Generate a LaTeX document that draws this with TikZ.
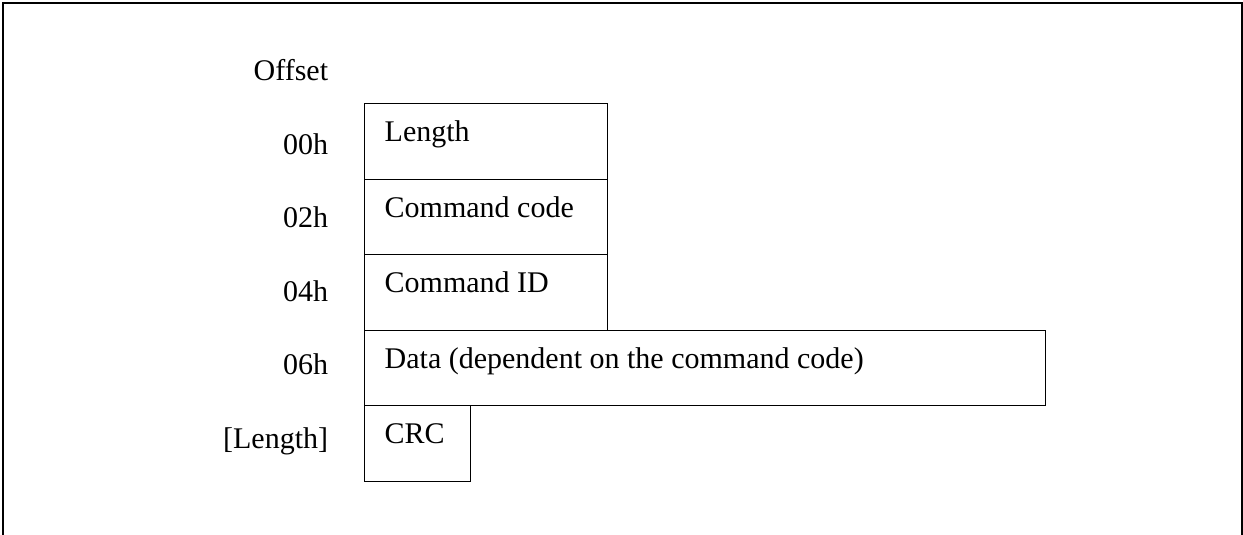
\documentclass[tikz,border=0pt]{standalone}
\usepackage{fontspec}
\setmainfont{Liberation Serif}
\usetikzlibrary{positioning}

\begin{document}
\begin{tikzpicture}[x=1pt,y=-1pt,
    field/.style={draw,line width=1pt,anchor=north west,inner sep=0pt,minimum height=75.5pt},
    fieldtext/.style={anchor=base west,inner sep=0pt,font=\fontsize{30}{36}\selectfont},
    offs/.style={anchor=base east,inner sep=0pt,font=\fontsize{30}{36}\selectfont}]
  \useasboundingbox (0,0) rectangle (1243,535);
  \draw [line width=2pt] (3,545) -- (3,2.7) -- (1241.7,2.7) -- (1241.7,545);

  \node [offs] (off) at (328.3,81) {Offset};
  \node [offs] (o0) at (328.3,154.4) {00h};
  \node [offs] (o2) at (328.3,227.8) {02h};
  \node [offs] (o4) at (328.3,301.2) {04h};
  \node [offs] (o6) at (328.3,374.6) {06h};
  \node [offs] (oL) at (328.3,448) {[Length]};

  \node [field,minimum width=243.2pt] (len) at (363.5,103) {};
  \node [field,minimum width=243.2pt] (code) at (363.5,178.5) {};
  \node [field,minimum width=243.2pt] (id) at (363.5,254) {};
  \node [field,minimum width=681.5pt] (data) at (363.5,329.5) {};
  \node [field,minimum width=106.2pt] (crc) at (363.5,405) {};

  \node [fieldtext] (lentext) at ([shift={(21,38.5)}]len.north west) {Length};
  \node [fieldtext] (codetext) at ([shift={(21,38.5)}]code.north west) {Command code};
  \node [fieldtext] (idtext) at ([shift={(21,38.5)}]id.north west) {Command ID};
  \node [fieldtext] (datatext) at ([shift={(21,38.5)}]data.north west) {Data (dependent on the command code)};
  \node [fieldtext] (crctext) at ([shift={(21,38.5)}]crc.north west) {CRC};
\end{tikzpicture}
\end{document}
